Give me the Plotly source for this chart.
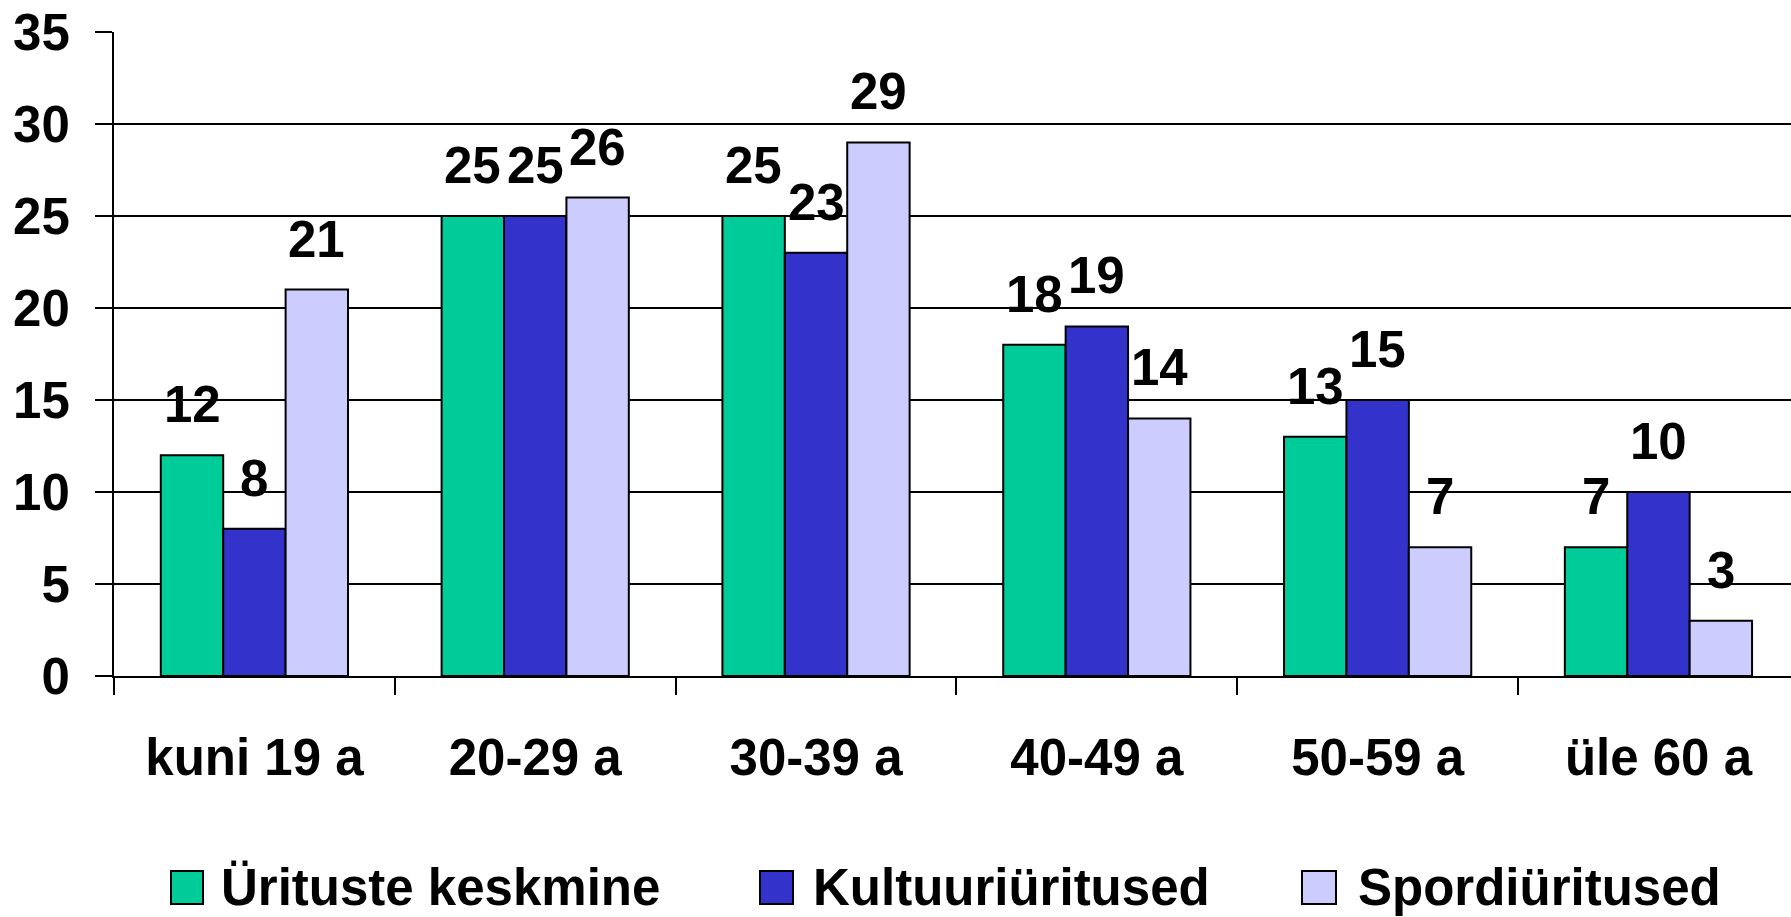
import plotly.graph_objects as go

categories = ["kuni 19 a", "20-29 a", "30-39 a", "40-49 a", "50-59 a", "üle 60 a"]
series_names = ["Ürituste keskmine", "Kultuuriüritused", "Spordiüritused"]
uurituste_keskmine = [12, 25, 25, 18, 13, 7]
kultuuriuritused = [8, 25, 23, 19, 15, 10]
spordiuritused = [21, 26, 29, 14, 7, 3]
y_ticks = [0, 5, 10, 15, 20, 25, 30, 35]

series_values = [uurituste_keskmine, kultuuriuritused, spordiuritused]
colors = ["#00CC99", "#3333CC", "#CCCCFF"]

W, H = 1791, 917
L, T, B_PX = 114, 32, 676
R_PX = W
FONT = dict(family="Liberation Sans, Arial, sans-serif", size=51, color="black", weight="bold")

def px_x(p):
    return (p - L) / (R_PX - L)

def px_y(p):
    return (B_PX - p) / (B_PX - T)

fig = go.Figure()
bargap = 1 / 3
bar_w = (1 - bargap) / 3
for i, (name, vals, col) in enumerate(zip(series_names, series_values, colors)):
    fig.add_trace(go.Bar(
        x=categories, y=vals, name=name, showlegend=False,
        marker=dict(color=col, line=dict(color="black", width=2)),
    ))
    off = (i - 1) * bar_w
    for j, v in enumerate(vals):
        fig.add_annotation(
            x=j + off, y=v, xref="x", yref="y", text=str(v), showarrow=False,
            xanchor="center", yanchor="bottom", yshift=20, font=FONT,
        )

# manual legend
legend_sq = [(171, 203), (760, 793), (1302, 1336)]
legend_tx = [219, 811, 1356]
for name, col, (a, b), tx in zip(series_names, colors, legend_sq, legend_tx):
    fig.add_shape(type="rect", xref="paper", yref="paper",
                  x0=px_x(a), x1=px_x(b), y0=px_y(904), y1=px_y(871),
                  fillcolor=col, line=dict(color="black", width=2))
    fig.add_annotation(x=px_x(tx), y=px_y(887), xref="paper", yref="paper",
                       text=name, showarrow=False, xanchor="left", yanchor="middle",
                       font=FONT)

fig.update_layout(
    width=W, height=H,
    margin=dict(l=L, r=0, t=T, b=H - B_PX, pad=0),
    paper_bgcolor="white", plot_bgcolor="white",
    barmode="group", bargap=bargap, bargroupgap=0,
    font=FONT,
)
fig.update_xaxes(
    range=[-0.5, 5.472], tickson="boundaries", ticks="outside", ticklen=17,
    tickwidth=2, tickcolor="black", showline=True, linecolor="black", linewidth=2,
    showgrid=False, tickfont=FONT, ticklabelstandoff=36,
)
fig.update_yaxes(
    range=[0, 35], tickvals=y_ticks, ticks="outside", ticklen=17, tickwidth=2,
    tickcolor="black", showline=True, linecolor="black", linewidth=2,
    showgrid=True, gridcolor="black", gridwidth=2, zeroline=False,
    tickfont=FONT, ticklabelstandoff=15,
)

fig.write_html("out.html", config={"displayModeBar": False})

# remove default browser body margin so the figure fills the window exactly
with open("out.html", "r", encoding="utf-8") as f:
    html = f.read()
html = html.replace("<head>", "<head><style>html,body{margin:0;padding:0;overflow:hidden;}</style>", 1)
with open("out.html", "w", encoding="utf-8") as f:
    f.write(html)
